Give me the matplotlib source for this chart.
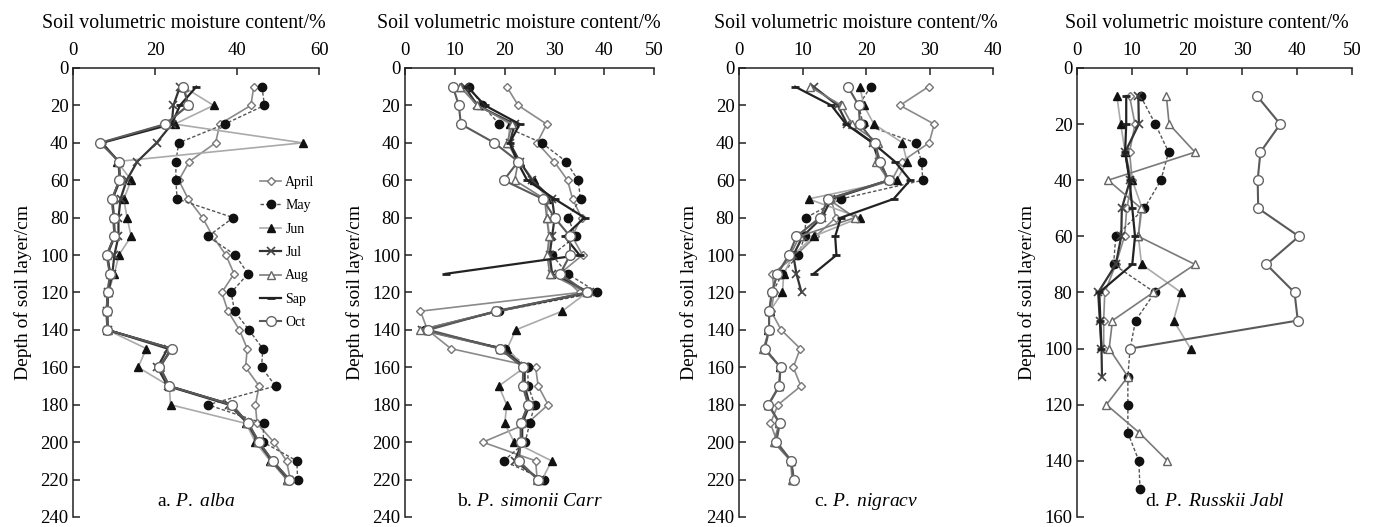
import numpy as np
import matplotlib
matplotlib.use("Agg")
import matplotlib.pyplot as plt

plt.rcParams['font.family'] = ['Liberation Serif', 'DejaVu Serif']
plt.rcParams['mathtext.fontset'] = 'custom'
plt.rcParams['mathtext.rm'] = 'Liberation Serif'
plt.rcParams['mathtext.it'] = 'Liberation Serif:italic'

nan = np.nan
months = ['April', 'May', 'Jun', 'Jul', 'Aug', 'Sap', 'Oct']

# depth of soil layer (cm)
depth_abc = list(range(10, 230, 10))
depth_d = list(range(10, 160, 10))

# a. P. alba
a_april = [44, 43.3, 35.7, 34.7, 28.3, 25.7, 28, 31.5, 34, 37.2, 39.2, 36.2, 37.7, 40.5, 42.4, 42, 45.3, 44.4, 44.8, 48.9, 52, 52.9]
a_may = [46, 46.6, 36.9, 25.7, 25, 25, 25.3, 39, 32.8, 39.5, 42.6, 38.5, 39.3, 42.8, 46.2, 45.9, 49.3, 32.8, 46.4, 46.3, 54.5, 54.7]
a_jun = [26.8, 34.2, 24.7, 55.9, 10.7, 14.1, 12.3, 13.1, 14.1, 11.1, 10, 8.5, 8.2, 8.3, 17.8, 15.8, 23.4, 23.7, 42.1, 44.4, 48, 52.1]
a_jul = [26, 24.4, 24, 20.3, 15.6, 13, 11.5, 11, 11, 10, 9.5, 8.5, 8.3, 8.4, 23, 20.5, 23, 38, 42.5, 45, 48.5, 52.5]
a_aug = [27, 28, 22.6, 6.8, 11.2, 11.5, 9.6, 10, 10.2, 8.3, 9, 8.5, 8.2, 8.4, 23.8, 21.2, 23.5, 38.4, 42.4, 45, 48.3, 52]
a_sap = [30, 26, 24, 7, 11, 11.3, 9.5, 9.8, 10, 8.2, 9, 8.4, 8.1, 8.3, 24, 21, 23.3, 38.6, 42.6, 45.2, 48.5, 52.6]
a_oct = [26.8, 28, 22.4, 6.5, 11.2, 11.2, 9.4, 9.8, 10, 8.1, 8.9, 8.4, 8.1, 8.3, 24, 21, 23.3, 38.6, 42.7, 45.3, 48.6, 52.7]

# b. P. simonii Carr
b_april = [20.4, 22.7, 28.4, 26.5, 29.9, 32.6, 33.6, 35.4, 33.5, 35.6, 31, 35, 3.1, 4.5, 9.2, 26.2, 26.7, 28.7, 24.5, 15.6, 26.2, 26.5]
b_may = [12.9, 15.5, 18.9, 27.4, 32.3, 34.7, 35.2, 32.7, 34.2, 29.5, 32.6, 38.6, 18.9, 4, 20, 24.6, 24.7, 26, 25, 24.1, 19.8, 27.9]
b_jun = [11, 15, 21, 20.7, 23, 25.8, 28.5, 28.5, 29, 28.7, 29.3, 36.5, 31.5, 22.2, 20.5, 24, 18.8, 20.4, 20, 21.9, 29.4, 27.5]
b_jul = [12, 14.5, 22, 21, 23, 25.5, 29.5, 30, 29.5, 29, 29.5, 37, 18.5, 3.5, 19.5, 24, 24, 25, 23.5, 23.5, 22, 27]
b_aug = [11, 14.5, 21.5, 20.5, 22.7, 22, 28, 28.4, 28.9, 28.5, 29, 36.4, 18.3, 3, 19, 23.7, 23.6, 24.7, 23.2, 23.2, 22.8, 26.5]
b_sap = [12.5, 16, 23, 21, 22.5, 24.5, 30, 36, 32, 35, 8.2, nan, nan, nan, nan, nan, nan, nan, nan, nan, nan, nan]
b_oct = [9.6, 10.8, 11.2, 17.9, 22.7, 19.8, 27.6, 30, 33.1, 33.1, 31.1, 36.4, 18.2, 4.7, 19, 23.7, 23.6, 24.7, 23.2, 23.2, 22.8, 26.7]

# c. P. nigracv
c_april = [29.8, 25.3, 30.7, 29.9, 25.6, 24, 14.5, 15.2, 12, 9, 5.2, 5.5, 5, 6.6, 9.6, 8.5, 9.7, 6.1, 4.9, 6, 8.2, 8.5]
c_may = [20.7, 18.8, 19.5, 27.8, 28.7, 28.9, 16, 10.5, 10.3, 9.3, 6.8, 5.2, 4.7, 4.7, 4.1, 6.5, 6.3, 4.6, 6.4, 5.8, 8.2, 8.6]
c_jun = [19, 19.6, 21.2, 25.7, 26.4, 24.8, 10.9, 19, 11.7, 8.5, 7, 6.8, 4.8, 4.6, 4, 6.4, 6.2, 4.5, 6.3, 5.6, 8.1, 8.5]
c_jul = [11.7, 15.5, 17, 21, 22, 23.5, 14.5, 13, 10, 8.5, 9, 9.8, nan, nan, nan, nan, nan, nan, nan, nan, nan, nan]
c_aug = [11.1, 16.1, 17.7, 21.9, 21.5, 23.5, 14, 18.2, 9.5, 8, 6, 5.2, 4.7, 4.7, 3.8, 6.5, 6.3, 4.6, 6.3, 5.4, 8.1, 8.3]
c_sap = [8.8, 14.5, 16.8, 21, 24.5, 26.9, 24.3, 16, 15.1, 15.3, 11.7, nan, nan, nan, nan, nan, nan, nan, nan, nan, nan, nan]
c_oct = [17.1, 18.8, 19, 21.3, 22.2, 23.5, 14, 12.7, 9, 7.8, 6, 5.1, 4.7, 4.7, 4, 6.5, 6.3, 4.6, 6.4, 5.8, 8.2, 8.6]

# d. P. Russkii Jabl
d_april = [9.5, 10.5, 9.5, 10, 9, 8.6, 7, 5, 4.8, 4.8, nan, nan, nan, nan, nan]
d_may = [11.5, 14.2, 16.6, 15.2, 12.2, 7, 6.6, 14.1, 10.6, 9.6, 9.2, 9.2, 9.2, 11.2, 11.4]
d_jun = [7.2, 7.9, 8.7, 10, 11.8, 11.1, 11.7, 18.9, 17.5, 20.6, nan, nan, nan, nan, nan]
d_jul = [11.1, 11.2, 8.7, 9.6, 8.1, 8, 7, 3.8, 4.1, 4.4, 4.5, nan, nan, nan, nan]
d_aug = [16.2, 16.7, 21.4, 5.6, 11.6, 11.1, 21.4, 13.8, 6.4, 5.8, 9.2, 5.3, 11.3, 16.4, nan]
d_sap = [8.9, 8.9, 8.7, 9.5, 10, 10.5, 10, 4, 4.2, 4.4, nan, nan, nan, nan, nan]
d_oct = [32.7, 36.9, 33.3, 32.8, 32.9, 40.3, 34.4, 39.5, 40.1, 9.6, nan, nan, nan, nan, nan]

styles = {
    'April': dict(color='#8a8a8a', lw=1.2, marker='D', ms=4.5, mfc='white', mec='#777777', mew=1.0),
    'May': dict(color='#555555', lw=1.0, ls=(0, (2.5, 1.5)), marker='o', ms=6, mfc='#111111', mec='#111111'),
    'Jun': dict(color='#aaaaaa', lw=1.2, marker='^', ms=6, mfc='#111111', mec='#111111'),
    'Jul': dict(color='#333333', lw=1.6, marker='x', ms=6, mec='#444444', mew=1.2),
    'Aug': dict(color='#7a7a7a', lw=1.2, marker='^', ms=6, mfc='white', mec='#666666', mew=1.0),
    'Sap': dict(color='#222222', lw=1.6, marker='_', ms=6, mec='#222222', mew=2.0),
    'Oct': dict(color='#5a5a5a', lw=1.5, marker='o', ms=7, mfc='white', mec='#666666', mew=1.0),
}

bottom, height = 0.019, 0.852
panels = [
    dict(pos=[0.0532, bottom, 0.1784, height], depth=depth_abc, xmax=60, xstep=20, ymax=240, lx=0.447,
         data=[a_april, a_may, a_jun, a_jul, a_aug, a_sap, a_oct], cap=r"a. $\mathit{P.\ alba}$"),
    dict(pos=[0.2937, bottom, 0.1808, height], depth=depth_abc, xmax=50, xstep=10, ymax=240, lx=0.455,
         data=[b_april, b_may, b_jun, b_jul, b_aug, b_sap, b_oct], cap=r"b. $\mathit{P.\ simonii\ Carr}$"),
    dict(pos=[0.5361, bottom, 0.1842, height], depth=depth_abc, xmax=40, xstep=10, ymax=240, lx=0.46,
         data=[c_april, c_may, c_jun, c_jul, c_aug, c_sap, c_oct], cap=r"c. $\mathit{P.\ nigracv}$"),
    dict(pos=[0.7812, bottom, 0.1994, height], depth=depth_d, xmax=50, xstep=10, ymax=160, lx=0.47,
         data=[d_april, d_may, d_jun, d_jul, d_aug, d_sap, d_oct], cap=r"d. $\mathit{P.\ Russkii\ Jabl}$"),
]

fig = plt.figure(figsize=(13.79, 5.27), dpi=100)

for i, p in enumerate(panels):
    ax = fig.add_axes(p['pos'])
    for name, vals in zip(months, p['data']):
        ax.plot(vals, p['depth'], label=name, **styles[name])
    ax.set_xlim(0, p['xmax'])
    ax.set_ylim(p['ymax'], 0)
    ax.set_xticks(np.arange(0, p['xmax'] + 1, p['xstep']))
    ax.set_yticks(np.arange(0, p['ymax'] + 1, 20))
    ax.xaxis.tick_top()
    ax.xaxis.set_label_position('top')
    ax.spines['right'].set_visible(False)
    ax.spines['bottom'].set_visible(False)
    for s in ['left', 'top']:
        ax.spines[s].set_linewidth(1.1)
        ax.spines[s].set_color('#222222')
    ax.tick_params(axis='both', direction='in', length=5, width=1.1, labelsize=13.5, color='#222222')
    ax.tick_params(axis='x', pad=6.5)
    ax.set_xlabel('Soil volumetric moisture content/%', fontsize=14.3, labelpad=10)
    ax.xaxis.label.set_x(p['lx'])
    ax.set_ylabel('Depth of soil layer/cm', fontsize=14, labelpad=6)
    ax.text(0.5, 0.035, p['cap'], transform=ax.transAxes, ha='center', va='center', fontsize=14)
    if i == 0:
        ax.legend(loc='upper left', bbox_to_anchor=(0.76, 0.76), frameon=False, fontsize=10,
                  borderpad=0, borderaxespad=0, handlelength=1.5, handletextpad=0.3,
                  labelspacing=0.75, numpoints=1)

fig.savefig('out.png', dpi=100)
